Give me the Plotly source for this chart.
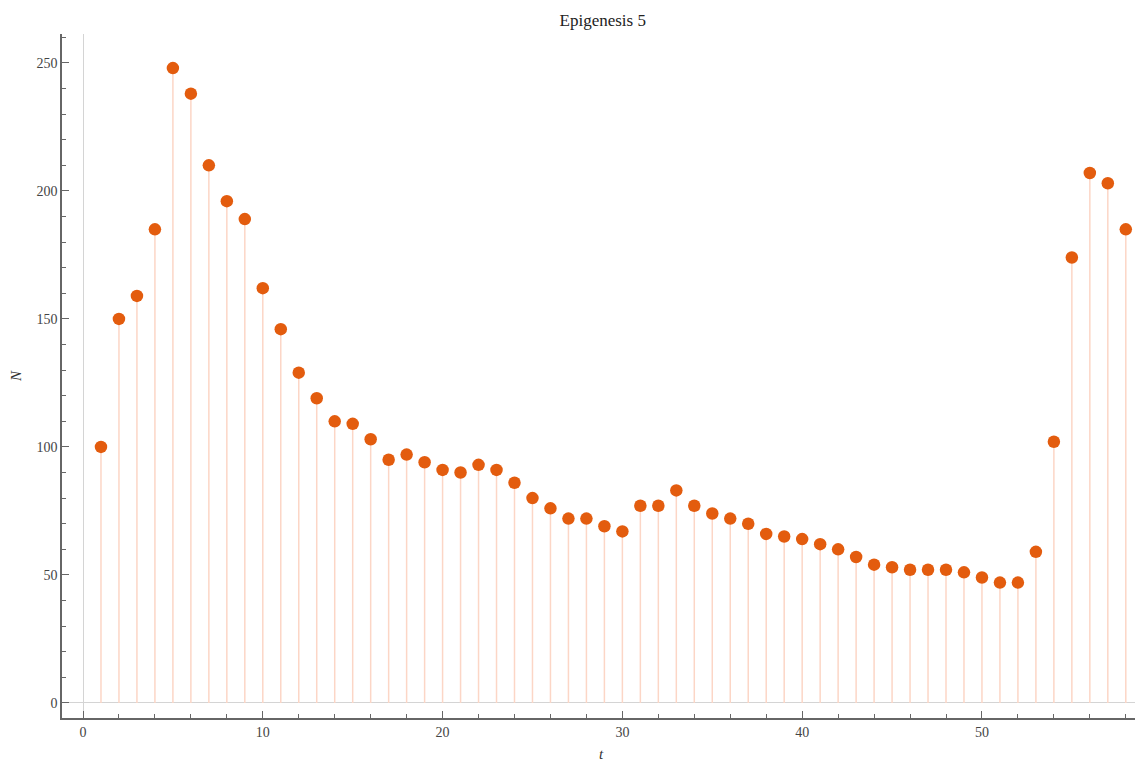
import plotly.graph_objects as go

t_values = list(range(1, 59))
n_values = [100, 150, 159, 185, 248, 238, 210, 196, 189, 162,
            146, 129, 119, 110, 109, 103, 95, 97, 94, 91,
            90, 93, 91, 86, 80, 76, 72, 72, 69, 67,
            77, 77, 83, 77, 74, 72, 70, 66, 65, 64,
            62, 60, 57, 54, 53, 52, 52, 52, 51, 49,
            47, 47, 59, 102, 174, 207, 203, 185]
x_ticks = [0, 10, 20, 30, 40, 50]
y_ticks = [0, 50, 100, 150, 200, 250]

stem_x, stem_y = [], []
for t, n in zip(t_values, n_values):
    stem_x += [t, t, None]
    stem_y += [0, n, None]

fig = go.Figure()
fig.add_trace(go.Scatter(x=stem_x, y=stem_y, mode="lines",
                         line=dict(color="#FCD6C6", width=1.5),
                         hoverinfo="skip", showlegend=False))
fig.add_trace(go.Scatter(x=t_values, y=n_values, mode="markers",
                         marker=dict(color="#E35C0E", size=12.5, line=dict(width=0)),
                         showlegend=False))

font_family = "Liberation Serif"
fig.update_layout(
    width=1135, height=754,
    margin=dict(l=54, r=3, t=26, b=44),
    paper_bgcolor="white", plot_bgcolor="white",
    title=dict(text="Epigenesis 5", x=0.524, xanchor="center", y=0.984, yanchor="middle",
               font=dict(family=font_family, size=17, color="#222")),
    font=dict(family=font_family, size=14, color="#444"),
    xaxis=dict(range=[-1.168, 58.79], tickvals=x_ticks, showgrid=False, automargin=False,
               showline=True, linecolor="#666", linewidth=1.5,
               ticks="inside", ticklen=7, tickcolor="#666", tickwidth=1,
               minor=dict(dtick=2, tick0=0, ticks="inside", ticklen=4, tickcolor="#666", showgrid=False),
               zeroline=True, zerolinecolor="#d4d4d4", zerolinewidth=1,
               title=dict(text="<i>t</i>", font=dict(family=font_family, size=15, color="#333"), standoff=10),
               tickfont=dict(family=font_family, size=14, color="#444")),
    yaxis=dict(range=[-5.9, 261.3], tickvals=y_ticks, showgrid=False, automargin=False,
               showline=True, linecolor="#666", linewidth=1.5,
               ticks="inside", ticklen=7, tickcolor="#666", tickwidth=1,
               minor=dict(dtick=10, tick0=0, ticks="inside", ticklen=4, tickcolor="#666", showgrid=False),
               zeroline=True, zerolinecolor="#d4d4d4", zerolinewidth=1,
               title=dict(text="<i>N</i>", font=dict(family=font_family, size=15, color="#333"), standoff=12),
               tickfont=dict(family=font_family, size=14, color="#444")),
)

fig.write_html("out.html")
